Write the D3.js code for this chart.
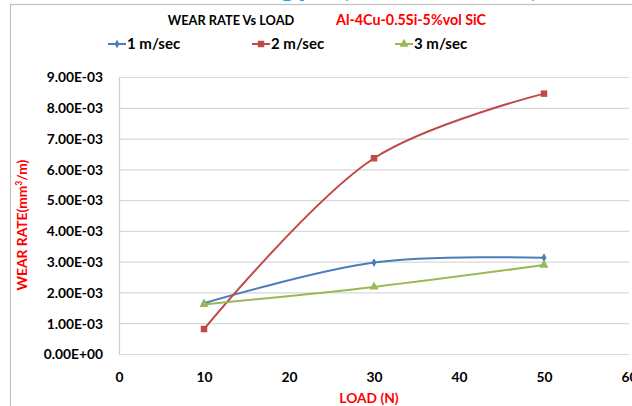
<!DOCTYPE html>
<html><head><meta charset="utf-8">
<script src="https://cdn.jsdelivr.net/npm/d3@7/dist/d3.min.js"></script>
<style>
html,body{margin:0;padding:0;background:#fff;}
text{font-family:Lato,"Open Sans",sans-serif;}
</style></head>
<body><svg id="c" width="632" height="406"></svg>
<script>
const loads = [10, 30, 50];
const s1 = [1.65e-3, 2.97e-3, 3.13e-3];
const s2 = [0.81e-3, 6.36e-3, 8.46e-3];
const s3 = [1.61e-3, 2.18e-3, 2.89e-3];
const seriesNames = ["1 m/sec", "2 m/sec", "3 m/sec"];
const yTicks = [0, 1e-3, 2e-3, 3e-3, 4e-3, 5e-3, 6e-3, 7e-3, 8e-3, 9e-3];
const xTicks = [0, 10, 20, 30, 40, 50, 60];

const svg = d3.select("#c");
const x = d3.scaleLinear().domain([0, 60]).range([119, 629]);
const y = d3.scaleLinear().domain([0, 9e-3]).range([354, 77]);

// cropped heading fragments above the chart
const cy = (tx, t) => svg.append("text").attr("x", tx).attr("y", -4).attr("font-size", 32)
  .attr("font-weight", "bold").attr("fill", "#1ba1e2").text(t);
cy(279, "gy");
cy(341, "(");
cy(530, ")");

// frame
svg.append("rect").attr("x", 10.5).attr("y", 4.5).attr("width", 640).attr("height", 420)
  .attr("fill", "none").attr("stroke", "#bfbfbf").attr("stroke-width", 1.2);

// grid
const gy = svg.append("g").attr("transform", "translate(119,0)")
  .call(d3.axisLeft(y).tickValues(yTicks).tickSize(-510).tickFormat(""));
gy.select(".domain").remove();
gy.selectAll(".tick line").attr("stroke", "#d9d9d9").attr("stroke-width", 1.2);

// axis line
svg.append("line").attr("x1", 119.5).attr("x2", 119.5).attr("y1", 77).attr("y2", 354.5)
  .attr("stroke", "#d0d0d0").attr("stroke-width", 1.2);

// y labels
const fmt = v => {
  if (v === 0) return "0.00E+00";
  const e = Math.floor(Math.log10(v) + 1e-9);
  const m = v / Math.pow(10, e);
  return m.toFixed(2) + "E-" + String(-e).padStart(2, "0");
};
const yl = svg.append("g").attr("transform", "translate(103,0)")
  .call(d3.axisLeft(y).tickValues(yTicks).tickSize(0).tickPadding(0).tickFormat(fmt));
yl.select(".domain").remove();
yl.selectAll("text").attr("font-family", "Lato,sans-serif").attr("font-size", 13.8)
  .attr("font-weight", "bold").attr("fill", "#000").attr("dy", "0.35em");

// x labels
const xl = svg.append("g").attr("transform", "translate(0,372)")
  .call(d3.axisBottom(x).tickValues(xTicks).tickSize(0).tickPadding(0));
xl.select(".domain").remove();
xl.selectAll("text").attr("font-family", "Lato,sans-serif").attr("font-size", 13.8)
  .attr("font-weight", "bold").attr("fill", "#000").attr("dy", "0.75em");

// titles
svg.append("text").attr("x", 231).attr("y", 25).attr("text-anchor", "middle")
  .attr("font-size", 12.8).attr("font-weight", "bold").attr("fill", "#000").text("WEAR RATE Vs LOAD");
svg.append("text").attr("x", 411).attr("y", 25).attr("text-anchor", "middle")
  .attr("font-size", 14.3).attr("font-weight", "bold").attr("fill", "#ff0000").text("Al-4Cu-0.5Si-5%vol SiC");
svg.append("text").attr("x", 369).attr("y", 403).attr("text-anchor", "middle")
  .attr("font-size", 13.8).attr("font-weight", "bold").attr("fill", "#ff0000").text("LOAD (N)");
const yt = svg.append("text").attr("transform", "translate(27,225) rotate(-90)").attr("text-anchor", "middle")
  .attr("font-size", 13.8).attr("font-weight", "bold").attr("fill", "#ff0000");
yt.append("tspan").text("WEAR RATE(mm");
yt.append("tspan").attr("font-size", 8.5).attr("dy", -5).text("3");
yt.append("tspan").attr("dy", 5).text("/m)");

// series
const colors = ["#4a7ebb", "#be4b48", "#98b954"];
const shapes = [d3.symbolDiamond, d3.symbolSquare, d3.symbolTriangle];
const sizes = [22, 42, 36];
const allSeries = [s1, s2, s3];
const line = d3.line().x(d => x(d[0])).y(d => y(d[1])).curve(d3.curveCatmullRom.alpha(0.5));

allSeries.forEach((vals, i) => {
  const pts = loads.map((l, j) => [l, vals[j]]);
  svg.append("path").attr("d", line(pts)).attr("fill", "none")
    .attr("stroke", colors[i]).attr("stroke-width", 2);
  svg.selectAll(null).data(pts).enter().append("path")
    .attr("d", d3.symbol().type(shapes[i]).size(sizes[i]))
    .attr("transform", d => `translate(${x(d[0])},${y(d[1])})`)
    .attr("fill", colors[i]);
});

// legend
const legX = [108, 252, 395];
seriesNames.forEach((n, i) => {
  const g = svg.append("g").attr("transform", `translate(${legX[i]},44)`);
  g.append("line").attr("x1", 0).attr("x2", 18).attr("stroke", colors[i]).attr("stroke-width", 2);
  g.append("path").attr("d", d3.symbol().type(shapes[i]).size(sizes[i])).attr("transform", "translate(9,0)")
    .attr("fill", colors[i]);
  g.append("text").attr("x", 19).attr("dy", "0.35em").attr("font-size", 15)
    .attr("font-weight", "bold").attr("fill", "#000").text(n);
});
</script></body></html>
